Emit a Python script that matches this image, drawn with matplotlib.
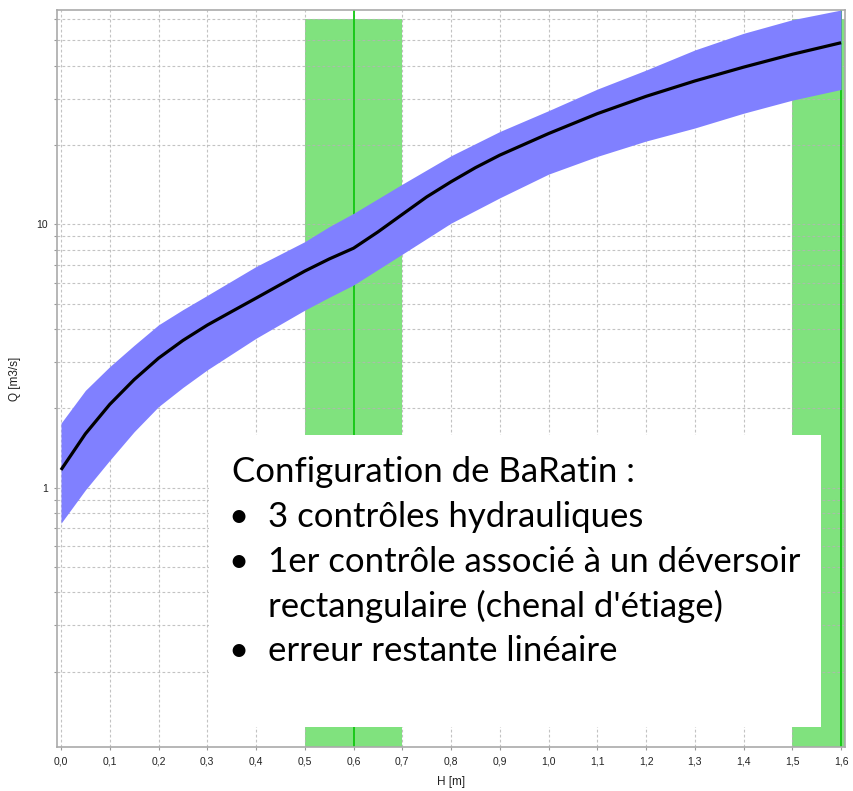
import numpy as np
import matplotlib
matplotlib.use("Agg")
import matplotlib.pyplot as plt
from matplotlib.patches import Rectangle
from matplotlib.ticker import FuncFormatter, LogLocator, NullFormatter, MultipleLocator

# rating curve (H in m, Q in m3/s)
h = [0.0, 0.05, 0.1, 0.15, 0.2, 0.25, 0.3, 0.35, 0.4, 0.45, 0.5, 0.55, 0.6,
     0.65, 0.7, 0.75, 0.8, 0.85, 0.9, 1.0, 1.1, 1.2, 1.3, 1.4, 1.5, 1.6]
q_med = [1.167, 1.60, 2.07, 2.57, 3.10, 3.62, 4.14, 4.66, 5.24, 5.90, 6.64, 7.38, 8.11,
         9.35, 10.9, 12.7, 14.5, 16.4, 18.3, 22.1, 26.3, 30.6, 35.0, 39.5, 44.2, 48.9]

# uncertainty band
h_band = [0.0, 0.05, 0.1, 0.15, 0.2, 0.25, 0.3, 0.4, 0.5, 0.55, 0.6, 0.7,
          0.8, 0.9, 1.0, 1.1, 1.2, 1.3, 1.4, 1.5, 1.6]
q_up = [1.756, 2.34, 2.88, 3.47, 4.15, 4.74, 5.37, 6.91, 8.59, 9.79, 11.0, 14.2,
        18.2, 22.5, 27.0, 32.6, 38.5, 45.9, 53.1, 59.8, 65.1]
q_low = [0.732, 0.98, 1.27, 1.63, 2.03, 2.40, 2.80, 3.69, 4.72, 5.28, 5.88, 7.7,
         10.1, 12.6, 15.5, 18.1, 20.7, 23.2, 26.4, 29.6, 32.5]

# activation stages (k) and their prior ranges
k_stage = [0.6, 1.6]
k_low = [0.5, 1.5]
k_high = [0.7, 1.7]
k_top = 60

note_title = "Configuration de BaRatin :"
note_items = ["3 contrôles hydrauliques",
              "1er contrôle associé à un déversoir",
              None,
              "erreur restante linéaire"]
note_wrap = "rectangulaire (chenal d'étiage)"

W, H = 854, 791
fig = plt.figure(figsize=(W / 100, H / 100), dpi=100)
ax = fig.add_axes([57 / W, 1 - 747 / H, 788 / W, 737 / H])

ax.set_yscale("log")
ax.set_xlim(-0.0082, 1.608)
ax.set_ylim(0.1035, 65.1)

for lo, hi, k in zip(k_low, k_high, k_stage):
    ax.fill_between([lo, hi], 0.05, k_top, color="#80e27e", lw=0, zorder=0.2)
    ax.axvline(k, color="#10c810", lw=1.3, zorder=1)

ax.fill_between(h_band, q_low, q_up, color="#8080ff", lw=0, zorder=2)
ax.plot(h, q_med, color="black", lw=2.3, zorder=3, solid_capstyle="butt")

ax.set_axisbelow(True)
ax.grid(True, which="both", color="#b4b4b4", ls=(0, (2.5, 2)), lw=0.8, alpha=0.8)
ax.xaxis.set_major_locator(MultipleLocator(0.1))
ax.xaxis.set_major_formatter(FuncFormatter(lambda v, p: f"{v:.1f}".replace(".", ",")))
ax.yaxis.set_major_locator(LogLocator(base=10))
ax.yaxis.set_minor_locator(LogLocator(base=10, subs=np.arange(2, 10)))
ax.yaxis.set_minor_formatter(NullFormatter())
ax.yaxis.set_major_formatter(FuncFormatter(lambda v, p: f"{v:g}"))
ax.tick_params(which="both", length=2.5, width=0.8, color="#999999", labelsize=7.5,
               labelcolor="#222222", pad=4)
for lab in ax.get_xticklabels() + ax.get_yticklabels():
    lab.set_family("Liberation Sans")
for s in ax.spines.values():
    s.set_color("#aaaaaa")
    s.set_linewidth(1.2)
ax.set_xlabel("H [m]", fontsize=8.5, family="Liberation Sans", color="#222222", labelpad=7)
ax.set_ylabel("Q [m3/s]", fontsize=8.5, family="Liberation Sans", color="#222222", labelpad=11)

# overlaid text box
fig.patches.append(Rectangle((209 / W, 1 - 727 / H), 612 / W, 292 / H,
                             transform=fig.transFigure, fc="white", ec="none", zorder=5))
font = dict(family="Lato", fontsize=25, color="black", va="baseline", zorder=6)
fig.text(232 / W, 1 - 481.7 / H, note_title, **font)
base = [527, 571.7, 616.7, 660.7]
for y, item in zip(base, note_items):
    if item is None:
        fig.text(268 / W, 1 - y / H, note_wrap, **font)
    else:
        fig.text(238 / W, 1 - y / H, "•", ha="center", **font)
        fig.text(268 / W, 1 - y / H, item, **font)

fig.savefig("out.png", dpi=100)
